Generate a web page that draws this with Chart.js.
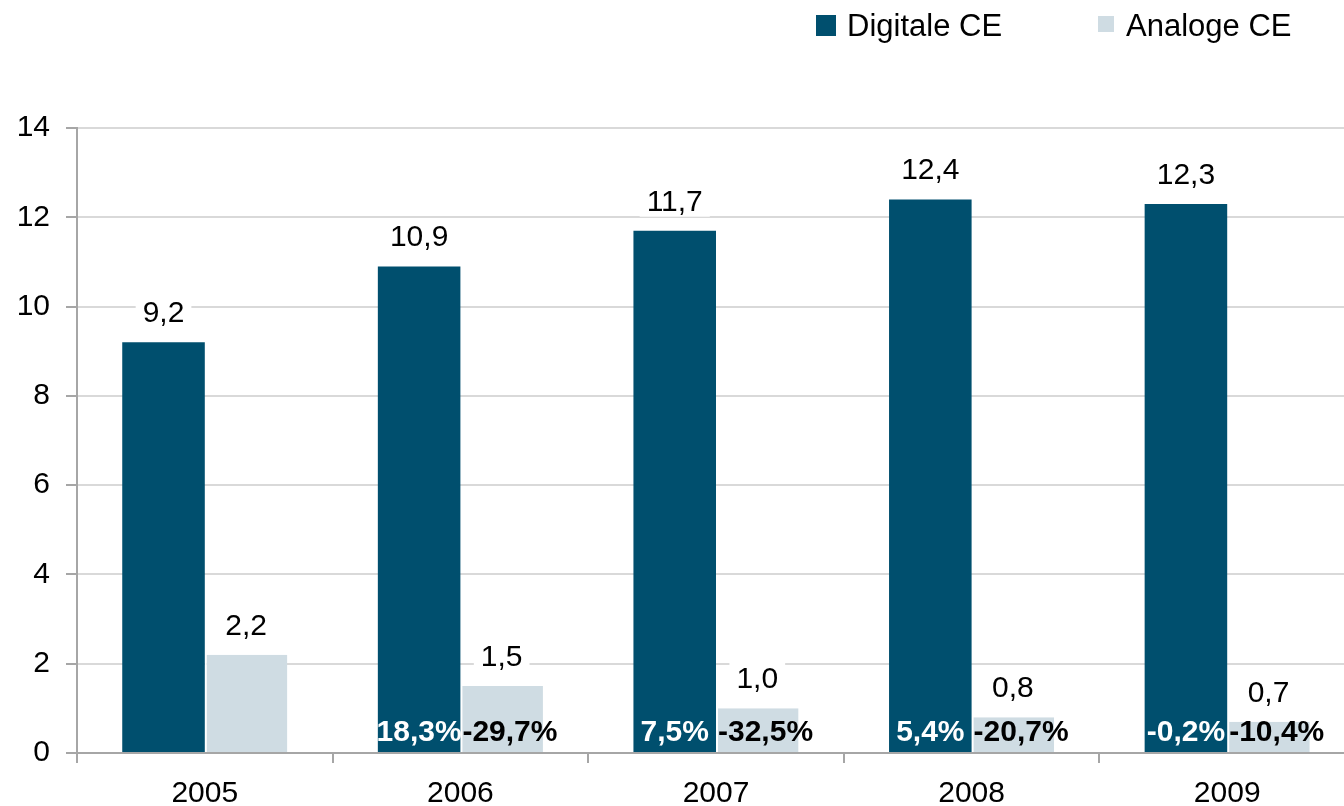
<!DOCTYPE html>
<html>
<head>
<meta charset="utf-8">
<script src="https://cdn.jsdelivr.net/npm/chart.js@4.4.1/dist/chart.umd.min.js"></script>
<style>
  html, body { margin: 0; padding: 0; background: #fff; overflow: hidden; }
  #wrap { position: relative; width: 1355px; height: 806px; }
  .key { position: absolute; }
  .txt { position: absolute; font: 31px 'Liberation Sans', Arial, sans-serif; line-height: 31px; color: #000; white-space: nowrap; }
</style>
</head>
<body>
<div id="wrap">
  <canvas id="chart" width="1355" height="806"></canvas>
  <div class="key" style="left:816px;top:15px;width:20px;height:21px;background:#004f6e"></div>
  <div class="txt" style="left:847px;top:10px">Digitale CE</div>
  <div class="key" style="left:1098px;top:16px;width:16px;height:16px;background:#cfdce3"></div>
  <div class="txt" style="left:1126px;top:10px">Analoge CE</div>
</div>
<script>
const years = ['2005', '2006', '2007', '2008', '2009'];
const digital = [9.2, 10.9, 11.7, 12.4, 12.3];
const analog = [2.2, 1.5, 1.0, 0.8, 0.7];
const digitalGrowth = [null, 18.3, 7.5, 5.4, -0.2];
const analogGrowth = [null, -29.7, -32.5, -20.7, -10.4];
const yTicks = [0, 2, 4, 6, 8, 10, 12, 14];

const FONT = "'Liberation Sans', Arial, sans-serif";
const comma = (n, d) => n.toFixed(d).replace('.', ',');

const labelPlugin = {
  id: 'barLabels',
  afterDatasetsDraw(chart) {
    const ctx = chart.ctx;
    ctx.save();
    // values above the bars, on a white box
    ctx.font = '30px ' + FONT;
    ctx.textAlign = 'center';
    ctx.textBaseline = 'alphabetic';
    chart.data.datasets.forEach((ds, i) => {
      chart.getDatasetMeta(i).data.forEach((bar, j) => {
        const t = comma(ds.data[j], 1);
        const w = ctx.measureText(t).width + 14;
        ctx.fillStyle = '#fff';
        ctx.fillRect(bar.x - w / 2, bar.y - 46, w, 32);
        ctx.fillStyle = '#000';
        ctx.fillText(t, bar.x, bar.y - 20);
      });
    });
    // growth rates at the foot of the bars
    ctx.font = 'bold 30px ' + FONT;
    const growth = [digitalGrowth, analogGrowth];
    growth.forEach((vals, i) => {
      chart.getDatasetMeta(i).data.forEach((bar, j) => {
        if (vals[j] == null) return;
        const t = comma(vals[j], 1) + '%';
        if (i === 0) {
          ctx.fillStyle = '#fff';
          ctx.textAlign = 'center';
          ctx.fillText(t, bar.x, bar.base - 11);
        } else {
          ctx.fillStyle = '#000';
          ctx.textAlign = 'left';
          ctx.fillText(t, bar.x - bar.width / 2 + 2, bar.base - 11);
        }
      });
    });
    ctx.restore();
  },
};

new Chart(document.getElementById('chart'), {
  type: 'bar',
  data: {
    labels: years,
    datasets: [
      {
        label: 'Digitale CE',
        data: digital,
        backgroundColor: '#004f6e',
        borderWidth: 0,
      },
      {
        label: 'Analoge CE',
        data: analog,
        backgroundColor: '#cfdce3',
        borderColor: '#ffffff',
        borderWidth: { left: 2, top: 0, right: 0, bottom: 0 },
        borderSkipped: false,
      },
    ],
  },
  options: {
    responsive: false,
    animation: false,
    devicePixelRatio: 1,
    categoryPercentage: 0.646,
    barPercentage: 1,
    layout: { padding: { top: 128, left: 0, right: 0, bottom: 0 } },
    plugins: { legend: { display: false }, tooltip: { enabled: false } },
    scales: {
      x: {
        offset: true,
        afterFit: (s) => { s.height = 53; },
        grid: {
          display: true,
          drawOnChartArea: false,
          drawTicks: true,
          tickLength: 10,
          tickColor: '#a6a6a6',
          lineWidth: 2,
          offset: true,
        },
        border: { display: true, color: '#a6a6a6', width: 2 },
        ticks: { color: '#000', font: { family: FONT, size: 30 }, padding: 13, maxRotation: 0 },
      },
      y: {
        min: 0,
        max: 14,
        afterFit: (s) => { s.width = 77; },
        afterBuildTicks: (s) => { s.ticks = yTicks.map((v) => ({ value: v })); },
        grid: { color: '#d9d9d9', lineWidth: 2, tickLength: 11, tickColor: '#a6a6a6' },
        border: { display: true, color: '#a6a6a6', width: 2 },
        ticks: { color: '#000', font: { family: FONT, size: 30 }, padding: 16 },
      },
    },
  },
  plugins: [labelPlugin],
});
</script>
</body>
</html>
